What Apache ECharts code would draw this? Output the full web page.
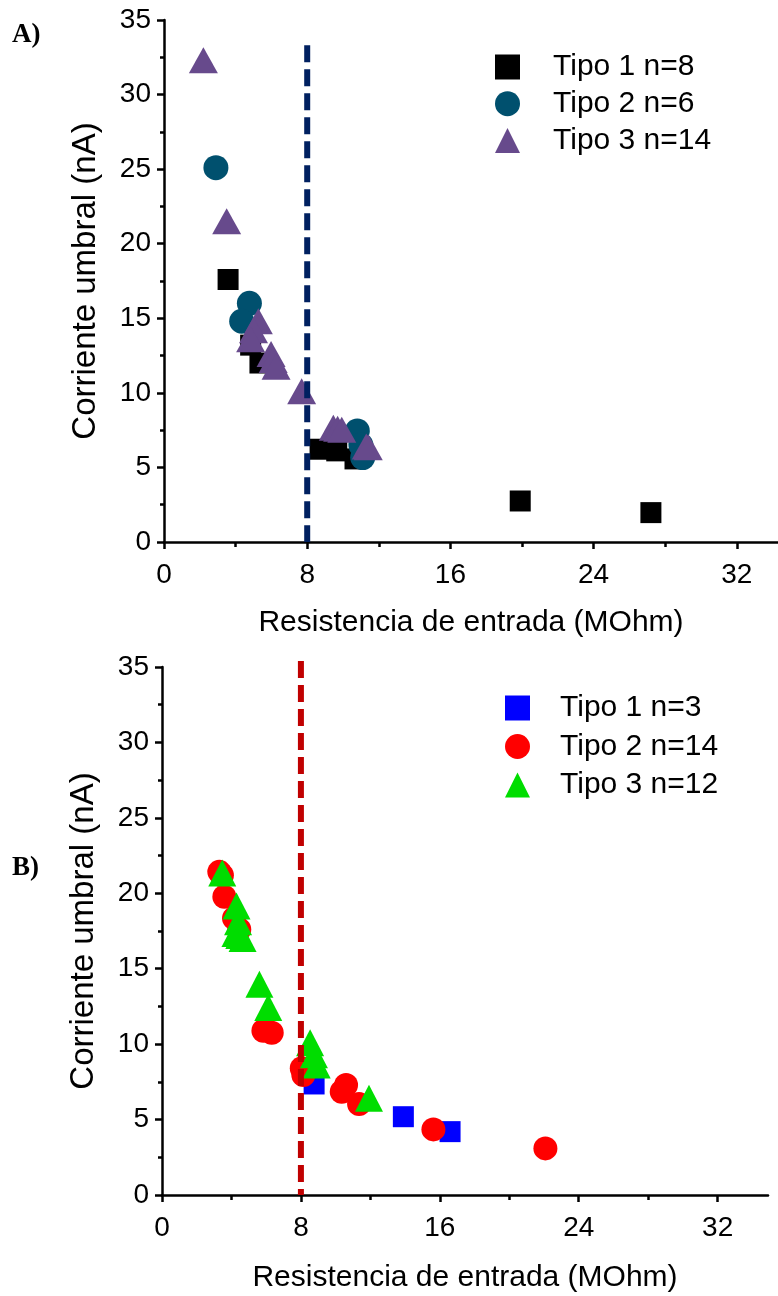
<!DOCTYPE html>
<html>
<head>
<meta charset="utf-8">
<script src="https://cdn.jsdelivr.net/npm/echarts@6/dist/echarts.min.js"></script>
<style>
  html, body { margin: 0; padding: 0; background: #fff; }
  #main { width: 778px; height: 1296px; }
</style>
</head>
<body>
<div id="main"></div>
<script>
// Panel A  (x = Resistencia de entrada MOhm, y = Corriente umbral nA)
var a_tipo1 = [[3.58, 17.6], [4.84, 13.2], [5.36, 12.0], [8.72, 6.22], [9.65, 6.11], [10.67, 5.57], [19.9, 2.75], [27.2, 1.97]];
var a_tipo2 = [[2.9, 25.1], [4.77, 16.0], [4.34, 14.8], [10.8, 7.45], [11.0, 6.5], [11.1, 5.66]];
var a_tipo3 = [[2.2, 32.3], [3.5, 21.5], [5.27, 14.8], [5.0, 14.2], [4.84, 13.6], [5.98, 12.6], [6.1, 12.2],
	[6.26, 11.75], [7.69, 10.1], [9.46, 7.66], [9.7, 7.6], [9.93, 7.52], [11.3, 6.4], [11.41, 6.36]];
var a_cut = [[8, 33.3], [8, 0]];
var a_names = ['Tipo 1 n=8', 'Tipo 2 n=6', 'Tipo 3 n=14'];

// Panel B
var b_tipo1 = [[8.76, 7.36], [13.9, 5.19], [16.59, 4.2]];
var b_tipo2 = [[3.3, 21.42], [3.45, 21.2], [3.59, 19.77], [4.15, 18.34], [4.45, 17.6], [5.84, 10.89], [6.32, 10.76],
	[8.05, 8.4], [8.14, 7.95], [10.6, 7.29], [10.35, 6.85], [11.35, 6.03], [15.63, 4.35], [22.08, 3.09]];
var b_tipo3 = [[3.47, 21.34], [4.29, 19.15], [4.38, 18.11], [4.23, 17.34], [4.45, 17.2], [4.64, 17.01],
	[5.61, 13.97], [6.12, 12.43], [8.53, 10.1], [8.75, 9.3], [8.91, 8.61], [11.92, 6.41]];
var b_cut = [[8, 35.4], [8, 0]];
var b_names = ['Tipo 1 n=3', 'Tipo 2 n=14', 'Tipo 3 n=12'];

var xMajor = [0, 8, 16, 24, 32];
var xMinor = [4, 12, 20, 28];
var yMax = 35;
var yStep = 5;

var font = 'Liberation Sans, Arial, sans-serif';
var axisColor = '#000';

function mainX(gridIndex, max, gap) {
	return {
		gridIndex: gridIndex, type: 'value', min: 0, max: max, position: 'bottom',
		name: 'Resistencia de entrada (MOhm)', nameLocation: 'middle', nameGap: gap,
		nameTextStyle: { fontFamily: font, fontSize: 30, color: '#000' },
		axisLine: { onZero: false, lineStyle: { color: axisColor, width: 2.5 } },
		axisTick: { customValues: xMajor, length: 7, lineStyle: { width: 2.5 } },
		axisLabel: { customValues: xMajor, margin: 19, fontFamily: font, fontSize: 28, color: '#000' },
		splitLine: { show: false }
	};
}
function minorX(gridIndex, max) {
	return {
		gridIndex: gridIndex, type: 'value', min: 0, max: max, position: 'bottom', offset: 0,
		axisLine: { show: false },
		axisTick: { customValues: xMinor, length: 5, lineStyle: { color: axisColor, width: 2.5 } },
		axisLabel: { show: false },
		splitLine: { show: false }
	};
}
function mainY(gridIndex) {
	return {
		gridIndex: gridIndex, type: 'value', min: 0, max: yMax, interval: yStep,
		name: 'Corriente umbral (nA)', nameLocation: 'middle', nameGap: 62,
		nameTextStyle: { fontFamily: font, fontSize: 33, color: '#000' },
		axisLine: { onZero: false, lineStyle: { color: axisColor, width: 2.5 } },
		axisTick: { length: 7, lineStyle: { width: 2.5 } },
		minorTick: { show: true, splitNumber: 2, length: 4, lineStyle: { color: axisColor, width: 2.5 } },
		axisLabel: { margin: 13, fontFamily: font, fontSize: 28, color: '#000' },
		splitLine: { show: false }
	};
}
function scatter(name, data, xi, yi, symbol, size, color) {
	return {
		name: name, type: 'scatter', xAxisIndex: xi, yAxisIndex: yi,
		symbol: symbol, symbolSize: size, data: data,
		itemStyle: { color: color, opacity: 1 }
	};
}
function cutLine(data, xi, yi, color) {
	return {
		type: 'line', xAxisIndex: xi, yAxisIndex: yi, data: data, symbol: 'none', clip: false, z: 10,
		lineStyle: { color: color, width: 6, type: [17, 7] }
	};
}

var mycharts = echarts.init(document.getElementById('main'));
var option = {
	animation: false,
	backgroundColor: '#fff',
	grid: [
		{ left: 164, top: 20, width: 614, height: 522 },
		{ left: 162, top: 667, width: 606, height: 528 }
	],
	xAxis: [mainX(0, 34.3, 66), minorX(0, 34.3), mainX(1, 34.9, 68), minorX(1, 34.9)],
	yAxis: [mainY(0), mainY(1)],
	legend: [
		{
			data: a_names, orient: 'vertical', left: 495, top: 52, padding: 0,
			itemWidth: 25, itemHeight: 25, itemGap: 6.7,
			textStyle: { fontFamily: font, fontSize: 30, color: '#000', padding: [0, 0, 0, 28] }
		},
		{
			data: b_names, orient: 'vertical', left: 505, top: 693, padding: 0,
			itemWidth: 25, itemHeight: 25, itemGap: 8.5,
			textStyle: { fontFamily: font, fontSize: 30, color: '#000', padding: [0, 0, 0, 25] }
		}
	],
	graphic: [
		{ type: 'text', left: 12, top: 22, style: { text: 'A)', font: 'bold 27px "Liberation Serif", serif', fill: '#000' } },
		{ type: 'text', left: 12, top: 855, style: { text: 'B)', font: 'bold 27px "Liberation Serif", serif', fill: '#000' } }
	],
	series: [
		scatter(a_names[0], a_tipo1, 0, 0, 'rect', 21, '#000000'),
		scatter(a_names[1], a_tipo2, 0, 0, 'circle', 25, '#00506e'),
		scatter(a_names[2], a_tipo3, 0, 0, 'triangle', [29, 26], '#674a8c'),
		cutLine(a_cut, 0, 0, '#002060'),
		scatter(b_names[0], b_tipo1, 2, 1, 'rect', 21, '#0000ff'),
		scatter(b_names[1], b_tipo2, 2, 1, 'circle', 24, '#ff0000'),
		scatter(b_names[2], b_tipo3, 2, 1, 'triangle', [28, 27], '#00dd00'),
		cutLine(b_cut, 2, 1, '#c00000')
	]
};
mycharts.setOption(option);
</script>
</body>
</html>
